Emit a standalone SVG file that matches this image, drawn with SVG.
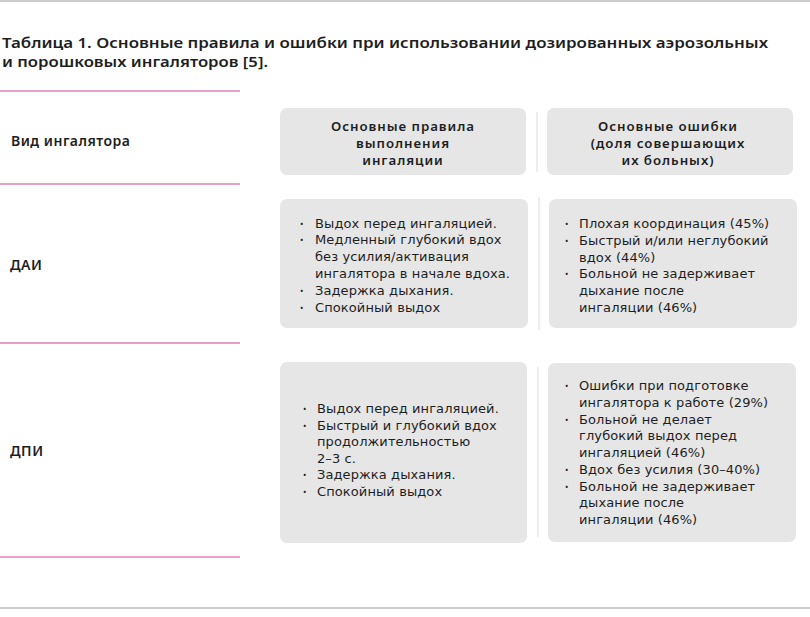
<svg xmlns="http://www.w3.org/2000/svg" width="810" height="617" viewBox="0 0 810 617">
<style>
text{font-family:"Noto Sans","Open Sans","Liberation Sans",sans-serif;fill:#1e1e1e}
.t{font-size:15px;font-weight:600}
.h{font-size:13.3px;font-weight:600;text-anchor:middle;letter-spacing:0.95px}
.l{font-size:14px;font-weight:600;letter-spacing:0.5px}
.b{font-family:"DejaVu Sans","Noto Sans",sans-serif;font-size:13px;letter-spacing:0.1px}
.d{font-size:9px}
.box{fill:#e6e6e6}
.pink{stroke:#e080b5;stroke-width:1.5}
.gray{stroke:#9a9a9a;stroke-width:1.2}
.div{stroke:#e2e2e2;stroke-width:1.2}
</style>
<rect width="810" height="617" fill="#fff"/>
<line class="gray" x1="0" y1="1" x2="810" y2="1"/>
<line class="gray" x1="0" y1="608" x2="810" y2="608"/>
<g id="title">
<text class="t" x="2" y="48" textLength="766" lengthAdjust="spacingAndGlyphs">Таблица 1. Основные правила и ошибки при использовании дозированных аэрозольных</text>
<text class="t" x="2" y="67" textLength="266" lengthAdjust="spacingAndGlyphs">и порошковых ингаляторов [5].</text>
</g>
<g id="rules">
<line class="pink" x1="0" y1="91" x2="240" y2="91"/>
<line class="pink" x1="0" y1="184" x2="240" y2="184"/>
<line class="pink" x1="0" y1="343" x2="240" y2="343"/>
<line class="pink" x1="0" y1="557" x2="240" y2="557"/>
<line class="div" x1="537" y1="112" x2="537" y2="172"/>
<line class="div" x1="539" y1="197" x2="539" y2="330"/>
<line class="div" x1="538" y1="367" x2="538" y2="537"/>
</g>
<g id="row-header-label"><text class="l" x="11" y="146">Вид ингалятора</text></g>
<g id="header-rules">
<rect class="box" x="280" y="108" width="246" height="67" rx="7"/>
<text class="h" x="403" y="131">Основные правила</text>
<text class="h" x="403" y="148">выполнения</text>
<text class="h" x="403" y="165">ингаляции</text>
</g>
<g id="header-errors">
<rect class="box" x="547" y="108" width="246" height="67" rx="7"/>
<text class="h" x="668" y="131">Основные ошибки</text>
<text class="h" x="668" y="148">(доля совершающих</text>
<text class="h" x="668" y="165">их больных)</text>
</g>
<g id="label-dai"><text class="l" x="10" y="270">ДАИ</text></g>
<g id="dai-rules">
<rect class="box" x="280" y="199" width="248" height="129" rx="7"/>
<text class="d" x="300" y="226.5">•</text>
<text class="b" x="315" y="227.5">Выдох перед ингаляцией.</text>
<text class="d" x="300" y="243.3">•</text>
<text class="b" x="315" y="244.3">Медленный глубокий вдох</text>
<text class="b" x="315" y="261.1">без усилия/активация</text>
<text class="b" x="315" y="277.9">ингалятора в начале вдоха.</text>
<text class="d" x="300" y="293.7">•</text>
<text class="b" x="315" y="294.7">Задержка дыхания.</text>
<text class="d" x="300" y="310.5">•</text>
<text class="b" x="315" y="311.5">Спокойный выдох</text>
</g>
<g id="dai-errors">
<rect class="box" x="549" y="199" width="248" height="129" rx="7"/>
<text class="d" x="565" y="227">•</text>
<text class="b" x="579" y="228">Плохая координация (45%)</text>
<text class="d" x="565" y="243.8">•</text>
<text class="b" x="579" y="244.8">Быстрый и/или неглубокий</text>
<text class="b" x="579" y="261.6">вдох (44%)</text>
<text class="d" x="565" y="277.4">•</text>
<text class="b" x="579" y="278.4">Больной не задерживает</text>
<text class="b" x="579" y="295.2">дыхание после</text>
<text class="b" x="579" y="312">ингаляции (46%)</text>
</g>
<g id="label-dpi"><text class="l" x="10" y="456">ДПИ</text></g>
<g id="dpi-rules">
<rect class="box" x="280" y="362" width="247" height="181" rx="7"/>
<text class="d" x="303" y="412">•</text>
<text class="b" x="317" y="413">Выдох перед ингаляцией.</text>
<text class="d" x="303" y="428.6">•</text>
<text class="b" x="317" y="429.6">Быстрый и глубокий вдох</text>
<text class="b" x="317" y="446.2">продолжительностью</text>
<text class="b" x="317" y="462.8">2–3 с.</text>
<text class="d" x="303" y="478.4">•</text>
<text class="b" x="317" y="479.4">Задержка дыхания.</text>
<text class="d" x="303" y="495">•</text>
<text class="b" x="317" y="496">Спокойный выдох</text>
</g>
<g id="dpi-errors">
<rect class="box" x="548" y="363" width="248" height="179" rx="7"/>
<text class="d" x="565" y="389">•</text>
<text class="b" x="579" y="390">Ошибки при подготовке</text>
<text class="b" x="579" y="406.75">ингалятора к работе (29%)</text>
<text class="d" x="565" y="422.5">•</text>
<text class="b" x="579" y="423.5">Больной не делает</text>
<text class="b" x="579" y="440.25">глубокий выдох перед</text>
<text class="b" x="579" y="457">ингаляцией (46%)</text>
<text class="d" x="565" y="472.75">•</text>
<text class="b" x="579" y="473.75">Вдох без усилия (30–40%)</text>
<text class="d" x="565" y="489.5">•</text>
<text class="b" x="579" y="490.5">Больной не задерживает</text>
<text class="b" x="579" y="507.25">дыхание после</text>
<text class="b" x="579" y="524">ингаляции (46%)</text>
</g>
</svg>
